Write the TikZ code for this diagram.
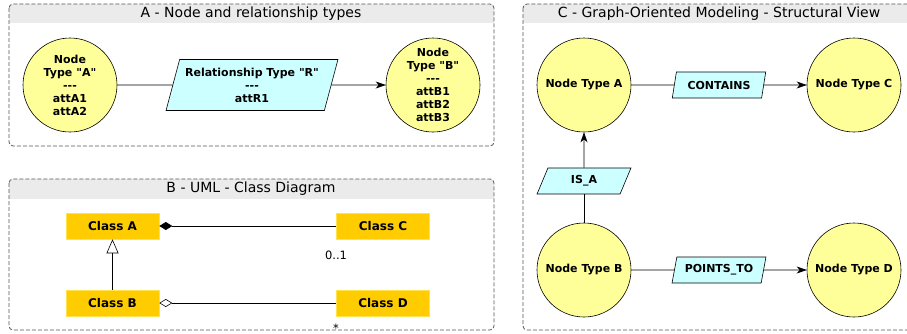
\documentclass[tikz,border=0pt]{standalone}
\usepackage{fontspec}
\setmainfont{DejaVu Sans}
\usetikzlibrary{shapes.geometric,arrows.meta}
\definecolor{nodey}{HTML}{FFFF99}
\definecolor{relc}{HTML}{CCFFFF}
\definecolor{band}{HTML}{EBEBEB}
\definecolor{classy}{HTML}{FFCC00}
\definecolor{classb}{HTML}{FFE34D}
\definecolor{frame}{HTML}{555555}
\newcommand{\dq}{\textquotedbl}
\begin{document}
\begin{tikzpicture}[x=1pt,y=-1pt,
  gnode/.style={circle, draw=black, fill=nodey, minimum size=94pt, inner sep=0pt, align=center, line width=0.6pt, font=\bfseries\fontsize{11}{13}\selectfont},
  rel/.style={trapezium, trapezium left angle=70, trapezium right angle=110, trapezium stretches=true, draw=black, fill=relc, line width=0.6pt, inner sep=0pt, align=center, font=\bfseries\fontsize{11}{13}\selectfont},
  cls/.style={rectangle, fill=classy, draw=classb, line width=0.6pt, minimum width=93pt, minimum height=26pt, inner sep=0pt, font=\bfseries\fontsize{12}{14}\selectfont},
  panel/.style={draw=frame, line width=0.8pt, dash pattern=on 4pt off 2pt, rounded corners=4pt},
  ptitle/.style={inner sep=0pt, font=\fontsize{14}{16}\selectfont},
  conn/.style={draw=black, line width=0.6pt},
  arr/.style={conn, -{Stealth[length=10pt,width=7pt,inset=3pt]}},
  mult/.style={inner sep=0pt, font=\fontsize{11.5}{13}\selectfont}
]
\useasboundingbox (0,0) rectangle (907,333);
% ---------- panel backgrounds
\begin{scope}
  \clip[rounded corners=4pt] (9,4) rectangle (494,146);
  \fill[band] (9,4) rectangle (494,23);
\end{scope}
\begin{scope}
  \clip[rounded corners=4pt] (9,179) rectangle (494,330);
  \fill[band] (9,179) rectangle (494,199);
\end{scope}
\begin{scope}
  \clip (0,0) rectangle (907,333);
  \begin{scope}
    \clip[rounded corners=4pt] (523,4) rectangle (925,330);
    \fill[band] (523,4) rectangle (925,23);
  \end{scope}
  \draw[panel] (523,4) rectangle (925,330);
\end{scope}
\draw[panel] (9,4) rectangle (494,146);
\draw[panel] (9,179) rectangle (494,330);
\node[ptitle] (tA) at (251,14) {A - Node and relationship types};
\node[ptitle] (tB) at (251,189) {B - UML - Class Diagram};
\node[ptitle] (tC) at (719,14) {C - Graph-Oriented Modeling - Structural View};
% ---------- panel A
\node[gnode] (na) at (70,85) {Node\\Type \dq A\dq\\-{}-{}-\\attA1\\attA2};
\node[gnode] (nb) at (433,85) {Node\\Type \dq B\dq\\-{}-{}-\\attB1\\attB2\\attB3};
\node[rel, minimum width=172pt, minimum height=51pt] (rr) at (252,85) {Relationship Type \dq R\dq\\-{}-{}-\\attR1};
\draw[conn] (na) -- (rr);
\draw[arr] (rr) -- (nb);
% ---------- panel B
\node[cls] (ca) at (112.5,226) {Class A};
\node[cls] (cc) at (383,226) {Class C};
\node[cls] (cb) at (112.5,303) {Class B};
\node[cls] (cd) at (383,303) {Class D};
\draw[conn, {Diamond[length=13pt,width=8pt]}-] (ca) -- (cc);
\draw[conn, -{Triangle[open,length=14pt,width=12pt]}] (cb) -- (ca);
\draw[conn, {Diamond[open,length=13pt,width=8pt]}-] (cb) -- (cd);
\node[mult] (m1) at (336,255) {0..1};
\node[mult, anchor=base] (m2) at (336,332.5) {*};
% ---------- panel C
\node[gnode] (ta) at (584,85) {Node Type A};
\node[gnode] (tc) at (854,85) {Node Type C};
\node[gnode] (tb) at (584,270) {Node Type B};
\node[gnode] (td) at (854,270) {Node Type D};
\node[rel, minimum width=94pt, minimum height=26pt] (ct) at (719,85) {CONTAINS};
\node[rel, minimum width=94pt, minimum height=26pt] (isa) at (584,181) {IS\textunderscore A};
\node[rel, minimum width=94pt, minimum height=26pt] (pt) at (719,270) {POINTS\textunderscore TO};
\draw[conn] (ta) -- (ct);
\draw[arr] (ct) -- (tc);
\draw[conn] (tb) -- (isa);
\draw[arr] (isa) -- (ta);
\draw[conn] (tb) -- (pt);
\draw[arr] (pt) -- (td);
\end{tikzpicture}
\end{document}
